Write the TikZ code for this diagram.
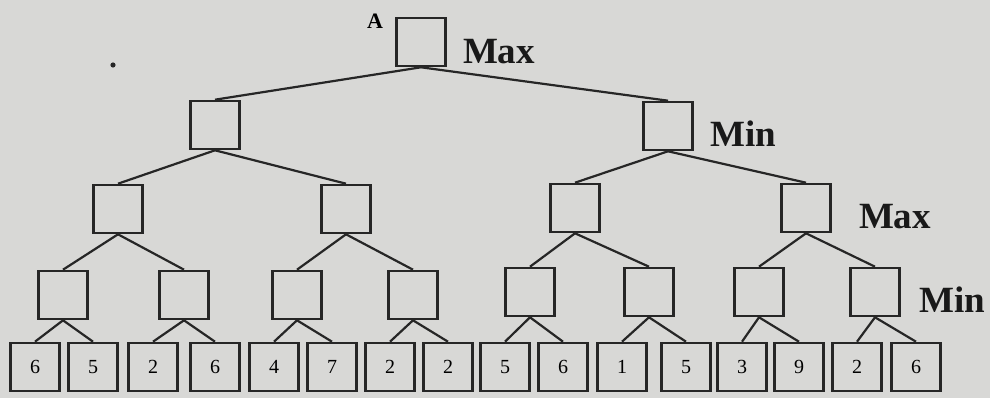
\documentclass[tikz,border=0pt]{standalone}
\usepackage{fontspec}
\setmainfont{Liberation Serif}
\begin{document}
\begin{tikzpicture}[x=1pt,y=-1pt,
  box/.style={draw=black!85, line width=2.6pt, minimum width=49pt, minimum height=48pt, inner sep=0pt, font=\fontsize{20}{22}\selectfont},
  edge/.style={draw=black!85, line width=2.2pt},
  lvl/.style={font=\bfseries\fontsize{37}{40}\selectfont, text=black!90, inner sep=0pt}]
\definecolor{paper}{RGB}{216,216,214}
\useasboundingbox (0,0) rectangle (990,398);
\fill[paper] (0,0) rectangle (990,398);

% root and internal levels
\node[box] (r) at (421,42) {};
\node[box] (a) at (215,125) {};
\node[box] (b) at (668,126) {};
\node[box] (aa) at (118,209) {};
\node[box] (ab) at (346,209) {};
\node[box] (ba) at (575,208) {};
\node[box] (bb) at (806,208) {};
\node[box] (m1) at (63,295) {};
\node[box] (m2) at (184,295) {};
\node[box] (m3) at (297,295) {};
\node[box] (m4) at (413,295) {};
\node[box] (m5) at (530,292) {};
\node[box] (m6) at (649,292) {};
\node[box] (m7) at (759,292) {};
\node[box] (m8) at (875,292) {};

% leaves
\foreach \i/\x/\v in {1/35/6,2/93/5,3/153/2,4/215/6,5/274/4,6/332/7,7/390/2,8/448/2,
                      9/505/5,10/563/6,11/622/1,12/686/5,13/742/3,14/799/9,15/857/2,16/916/6}
  \node[box] (l\i) at (\x,367) {\v};

% connectors
\draw[edge] (r.south) -- (a.north);
\draw[edge] (r.south) -- (b.north);
\draw[edge] (a.south) -- (aa.north);
\draw[edge] (a.south) -- (ab.north);
\draw[edge] (b.south) -- (ba.north);
\draw[edge] (b.south) -- (bb.north);
\draw[edge] (aa.south) -- (m1.north);
\draw[edge] (aa.south) -- (m2.north);
\draw[edge] (ab.south) -- (m3.north);
\draw[edge] (ab.south) -- (m4.north);
\draw[edge] (ba.south) -- (m5.north);
\draw[edge] (ba.south) -- (m6.north);
\draw[edge] (bb.south) -- (m7.north);
\draw[edge] (bb.south) -- (m8.north);
\foreach \m [evaluate=\m as \p using int(2*\m-1), evaluate=\m as \q using int(2*\m)] in {1,...,8} {
  \draw[edge] (m\m.south) -- (l\p.north);
  \draw[edge] (m\m.south) -- (l\q.north);
}

% labels
\node[font=\bfseries\fontsize{22}{24}\selectfont, inner sep=0pt] (lblA) at (375,21) {A};
\node[lvl] (lmax0) at (499,52) {Max};
\node[lvl] (lmin1) at (743,134) {Min};
\node[lvl] (lmax2) at (895,217) {Max};
\node[lvl] (lmin3) at (952,300) {Min};
\fill[black!85] (113,65) circle (2.6pt);
\end{tikzpicture}
\end{document}
